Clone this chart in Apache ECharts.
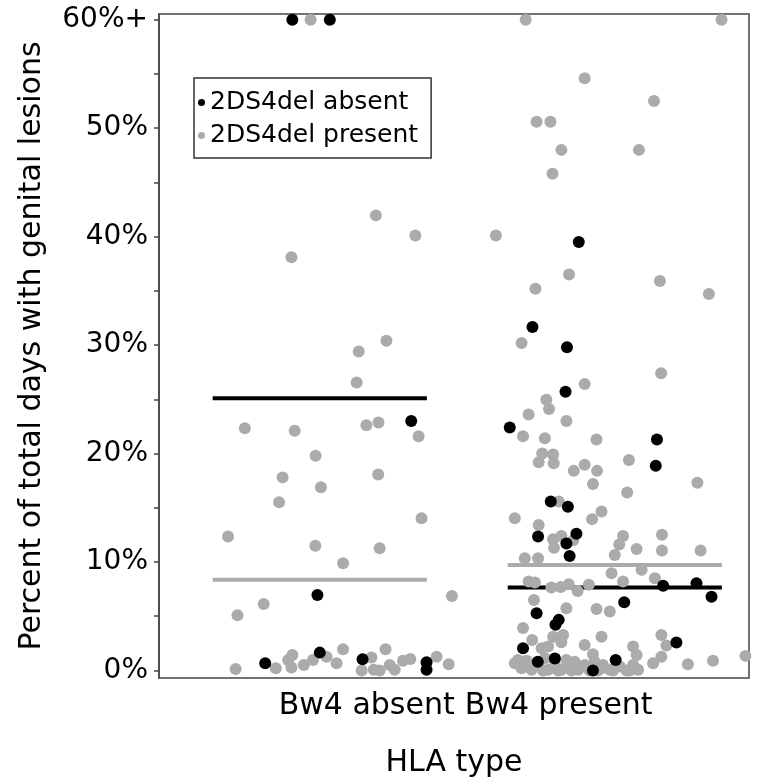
<!DOCTYPE html>
<html>
<head>
<meta charset="utf-8">
<script src="https://cdn.jsdelivr.net/npm/echarts@6/dist/echarts.min.js"></script>
<style>html,body{margin:0;padding:0;background:#fff}#c{width:765px;height:783px}</style>
</head>
<body>
<div id="c"></div>
<script>
// ---- data ----
const categories = ['Bw4 absent', 'Bw4 present'];
const yTickLabels = ['0%', '10%', '20%', '30%', '40%', '50%', '60%+'];
const seriesNames = ['2DS4del absent', '2DS4del present'];

// [jittered x in category units (1 = Bw4 absent, 2 = Bw4 present), percent]
const absentBlack = [
  [0.907, 60], [1.034, 60], [1.310, 23.0], [0.992, 6.96], [0.815, 0.66],
  [1.000, 1.64], [1.145, 1.03], [1.362, 0.76], [1.362, 0.05]
];
const absentGrey = [
  [0.969, 60], [1.190, 41.96], [1.324, 40.1], [0.904, 38.1], [1.226, 30.4],
  [1.132, 29.4], [1.125, 26.55], [0.746, 22.34], [0.915, 22.1], [1.158, 22.6],
  [1.199, 22.86], [1.335, 21.6], [0.986, 19.8], [0.874, 17.8], [1.198, 18.06],
  [1.004, 16.9], [0.862, 15.5], [1.345, 14.04], [0.689, 12.34], [0.985, 11.49],
  [1.203, 11.27], [1.079, 9.89], [1.448, 6.87], [0.810, 6.13], [0.721, 5.09],
  [0.715, 0.14], [0.851, 0.2], [0.893, 0.97], [0.907, 1.43], [0.904, 0.26],
  [0.946, 0.5], [0.977, 0.97], [1.023, 1.27], [1.057, 0.66], [1.079, 1.95],
  [1.142, 0], [1.175, 1.18], [1.183, 0.05], [1.203, 0], [1.223, 1.95],
  [1.237, 0.5], [1.254, 0.05], [1.282, 0.88], [1.307, 1.06], [1.396, 1.27],
  [1.437, 0.57]
];
const presentBlack = [
  [1.878, 39.5], [1.721, 31.66], [1.838, 29.8], [1.833, 25.7], [1.644, 22.4],
  [2.143, 21.3], [2.139, 18.87], [1.783, 15.57], [1.841, 15.1], [1.740, 12.34],
  [1.870, 12.6], [1.836, 11.7], [1.847, 10.56], [2.164, 7.8], [2.277, 8.04],
  [2.328, 6.8], [2.032, 6.29], [1.735, 5.28], [1.810, 4.66], [1.799, 4.2],
  [1.689, 2.05], [2.209, 2.57], [1.797, 1.1], [1.739, 0.8], [1.926, 0],
  [2.003, 0.97]
];
const presentGrey = [
  [1.698, 60], [2.362, 60], [1.898, 54.6], [2.133, 52.5], [1.735, 50.6],
  [1.782, 50.6], [1.819, 48.0], [2.082, 48.0], [1.789, 45.8], [1.597, 40.1],
  [1.845, 36.5], [2.153, 35.9], [1.731, 35.2], [2.319, 34.7], [1.684, 30.2],
  [2.157, 27.4], [1.898, 26.4], [1.768, 24.95], [1.777, 24.1], [1.708, 23.6],
  [1.836, 23.0], [1.689, 21.6], [1.763, 21.4], [1.938, 21.3], [1.754, 20.0],
  [1.791, 19.9], [1.742, 19.2], [1.793, 19.1], [1.861, 18.4], [1.898, 18.96],
  [1.940, 18.4], [1.926, 17.2], [2.048, 19.4], [2.280, 17.3], [2.042, 16.4],
  [1.810, 15.57], [1.661, 14.04], [1.955, 14.65], [1.923, 13.95], [1.742, 13.4],
  [1.791, 12.1], [1.819, 12.4], [1.859, 12.0], [1.794, 11.3], [1.695, 10.35],
  [1.740, 10.35], [2.028, 12.4], [2.160, 12.5], [2.015, 11.6], [2.074, 11.2],
  [2.160, 11.05], [2.291, 11.05], [2.000, 10.65], [1.708, 8.2], [1.729, 8.1],
  [1.785, 7.64], [1.817, 7.7], [1.844, 7.95], [1.874, 7.33], [1.912, 7.9],
  [1.989, 8.97], [2.091, 9.27], [2.028, 8.2], [2.136, 8.5], [1.726, 6.5],
  [1.836, 5.74], [1.938, 5.67], [1.983, 5.43], [1.689, 3.9], [1.720, 2.8],
  [1.791, 3.1], [1.825, 3.27], [1.819, 2.6], [1.898, 2.35], [1.955, 3.1],
  [1.752, 2.05], [1.774, 2.2], [1.926, 1.5], [2.158, 3.27], [2.175, 2.29],
  [2.062, 2.2], [2.074, 1.43], [2.158, 1.27], [2.130, 0.66], [2.248, 0.57],
  [2.333, 0.9], [2.443, 1.34],
  [1.661, 0.66], [1.684, 0.2], [1.701, 0.88], [1.718, 0.05], [1.740, 0.5],
  [1.763, 1.13], [1.774, 0.05], [1.797, 0.5], [1.819, 0.05], [1.836, 0.97],
  [1.847, 0.2], [1.864, 0.81], [1.876, 0.05], [1.898, 0.5], [1.915, 0],
  [1.932, 0.81], [1.955, 0.2], [1.672, 0.97], [1.757, 0], [1.808, 0],
  [1.853, 0], [1.943, 0], [1.960, 0.5], [1.983, 0.05], [2.017, 0.35],
  [2.040, 0], [2.062, 0.5], [2.079, 0.05], [1.994, 0], [2.051, 0]
];
// group medians [2DS4del absent, 2DS4del present]
const medianAbsentGroup = [25.1, 8.35];
const medianPresentGroup = [7.64, 9.73];

// ---- chart ----
const FONT = 'DejaVu Sans';
const BLACK = '#000000';
const GREY = '#ababab';
const half = 0.363;
function seg(center, v) { return [[center - half, v], [center + half, v]]; }
function lineSeries(data, color) {
  return { type: 'line', data: data, symbol: 'none', silent: true,
    lineStyle: { color: color, width: 4 }, z: 1 };
}

const chart = echarts.init(document.getElementById('c'), null, { renderer: 'canvas' });
chart.setOption({
  animation: false,
  backgroundColor: '#fff',
  textStyle: { fontFamily: FONT },
  grid: { left: 159, right: 16, top: 14, bottom: 105, show: true,
    borderColor: '#444', borderWidth: 1.5, backgroundColor: 'transparent' },
  legend: {
    orient: 'vertical', left: 194, top: 78,
    padding: [12, 13, 10, 4], itemGap: 8,
    itemWidth: 7, itemHeight: 7, icon: 'circle',
    borderColor: '#333', borderWidth: 1.5, borderRadius: 0,
    backgroundColor: '#fff',
    textStyle: { fontSize: 25, color: '#000', fontFamily: FONT },
    data: seriesNames
  },
  xAxis: {
    type: 'value', min: 0.455, max: 2.455,
    name: 'HLA type', nameLocation: 'middle', nameGap: 70,
    nameTextStyle: { fontSize: 30, color: '#000', fontFamily: FONT },
    axisLine: { show: false }, splitLine: { show: false },
    axisTick: { show: false },
    axisLabel: {
      customValues: [1.159, 1.81],
      formatter: v => categories[Math.round(v) - 1],
      fontSize: 30, color: '#000', margin: 13, fontFamily: FONT
    }
  },
  yAxis: {
    type: 'value', min: -0.7, max: 60.53,
    name: 'Percent of total days with genital lesions',
    nameLocation: 'middle', nameGap: 112,
    nameTextStyle: { fontSize: 30, color: '#000', fontFamily: FONT },
    axisLine: { show: true, lineStyle: { color: '#444', width: 1.5 } },
    splitLine: { show: false },
    axisTick: { show: true, length: 5, lineStyle: { color: '#444', width: 1.5 },
      customValues: [0, 5, 10, 15, 20, 25, 30, 35, 40, 45, 50, 55, 60] },
    axisLabel: {
      customValues: [0, 10, 20, 30, 40, 50, 60],
      formatter: v => yTickLabels[Math.round(v / 10)],
      fontSize: 28, color: '#000', margin: 11, fontFamily: FONT
    }
  },
  series: [
    lineSeries(seg(1, medianAbsentGroup[0]), BLACK),
    lineSeries(seg(1, medianAbsentGroup[1]), GREY),
    lineSeries(seg(2, medianPresentGroup[0]), BLACK),
    lineSeries(seg(2, medianPresentGroup[1]), GREY),
    { name: seriesNames[1], type: 'scatter', data: absentGrey.concat(presentGrey),
      symbolSize: 12, itemStyle: { color: GREY, opacity: 1 }, z: 2 },
    { name: seriesNames[0], type: 'scatter', data: absentBlack.concat(presentBlack),
      symbolSize: 12, itemStyle: { color: BLACK, opacity: 1 }, z: 3 }
  ]
});
</script>
</body>
</html>
